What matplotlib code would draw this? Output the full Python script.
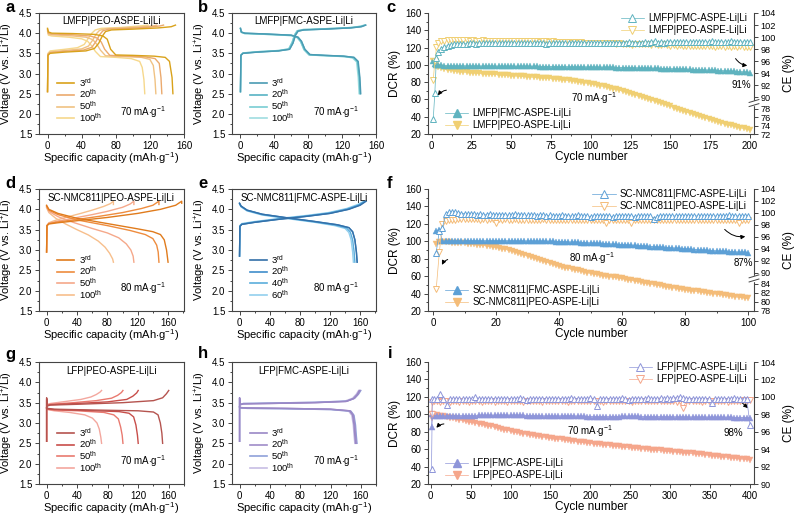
import matplotlib.pyplot as plt
import numpy as np
from matplotlib.lines import Line2D
from matplotlib.ticker import MultipleLocator

plt.rcParams['font.family'] = ['Liberation Sans', 'DejaVu Sans']
plt.rcParams['mathtext.fontset'] = 'custom'
plt.rcParams['mathtext.rm'] = 'Liberation Sans'
plt.rcParams['mathtext.it'] = 'Liberation Sans:italic'
plt.rcParams['mathtext.bf'] = 'Liberation Sans:bold'
plt.rcParams['axes.unicode_minus'] = True

# ---------------- voltage profiles (capacity mAh/g, voltage V) ----------------
labels_std = [r'3$^{\rm rd}$', r'20$^{\rm th}$', r'50$^{\rm th}$', r'100$^{\rm th}$']
labels_e = [r'3$^{\rm rd}$', r'20$^{\rm th}$', r'40$^{\rm th}$', r'60$^{\rm th}$']

# a: LMFP|PEO-ASPE-Li|Li
a_chg_cap = [[0, 0.5, 3, 20, 45, 55, 60, 64, 68, 75, 100, 130, 145, 150],
             [0, 0.5, 3, 20, 42, 52, 57, 61, 65, 72, 95, 120, 132, 136],
             [0, 0.5, 3, 20, 40, 48, 53, 57, 61, 68, 90, 112, 124, 128],
             [0, 0.5, 3, 20, 35, 43, 48, 52, 56, 63, 85, 103, 114, 118]]
a_chg_v = [[2.55, 3.45, 3.50, 3.53, 3.56, 3.62, 3.75, 3.92, 4.04, 4.08, 4.10, 4.13, 4.16, 4.20],
           [2.55, 3.47, 3.52, 3.55, 3.58, 3.65, 3.80, 3.96, 4.06, 4.10, 4.12, 4.15, 4.18, 4.20],
           [2.55, 3.48, 3.53, 3.57, 3.61, 3.68, 3.83, 3.98, 4.07, 4.11, 4.13, 4.16, 4.18, 4.20],
           [2.55, 3.50, 3.56, 3.60, 3.64, 3.72, 3.88, 4.00, 4.08, 4.12, 4.14, 4.17, 4.19, 4.20]]
a_dis_cap = [[0, 1, 5, 30, 55, 65, 70, 74, 80, 100, 125, 138, 143, 146, 147],
             [0, 1, 5, 30, 50, 58, 63, 67, 73, 95, 115, 126, 131, 133, 134],
             [0, 1, 5, 30, 45, 53, 58, 62, 68, 90, 110, 120, 124, 126, 127],
             [0, 1, 5, 25, 40, 47, 52, 56, 62, 80, 98, 108, 111, 113, 114]]
a_dis_v = [[4.12, 4.03, 4.00, 3.99, 3.97, 3.93, 3.85, 3.60, 3.46, 3.45, 3.43, 3.40, 3.30, 2.90, 2.50],
           [4.10, 4.00, 3.98, 3.96, 3.93, 3.88, 3.78, 3.60, 3.45, 3.43, 3.41, 3.37, 3.25, 2.90, 2.50],
           [4.08, 3.98, 3.96, 3.93, 3.90, 3.84, 3.72, 3.58, 3.44, 3.42, 3.40, 3.35, 3.20, 2.85, 2.50],
           [4.05, 3.95, 3.93, 3.90, 3.86, 3.80, 3.68, 3.55, 3.42, 3.40, 3.37, 3.30, 3.15, 2.85, 2.50]]

# b: LMFP|FMC-ASPE-Li|Li
b_chg_cap = [[0, 0.5, 3, 20, 45, 58, 62, 65, 68, 75, 100, 130, 143, 148],
             [0, 0.5, 3, 20, 45, 58, 62, 65, 68, 75, 100, 130, 142, 147.5],
             [0, 0.5, 3, 20, 45, 57, 61, 64, 67, 74, 100, 130, 142, 147],
             [0, 0.5, 3, 20, 45, 57, 61, 64, 67, 74, 100, 130, 141, 146]]
b_chg_v = [[2.55, 3.45, 3.50, 3.53, 3.56, 3.60, 3.75, 3.95, 4.05, 4.08, 4.10, 4.13, 4.16, 4.20],
           [2.55, 3.45, 3.50, 3.53, 3.56, 3.60, 3.76, 3.96, 4.05, 4.08, 4.10, 4.13, 4.16, 4.20],
           [2.55, 3.46, 3.51, 3.54, 3.57, 3.61, 3.77, 3.96, 4.06, 4.09, 4.11, 4.14, 4.17, 4.20],
           [2.55, 3.46, 3.51, 3.54, 3.57, 3.61, 3.78, 3.97, 4.06, 4.09, 4.11, 4.14, 4.17, 4.20]]
b_dis_cap = [[0, 1, 5, 30, 60, 68, 72, 76, 82, 100, 122, 134, 139, 141, 142],
             [0, 1, 5, 30, 60, 68, 72, 76, 82, 100, 122, 134, 138.5, 140.5, 141.5],
             [0, 1, 5, 30, 60, 67, 71, 75, 81, 100, 122, 133, 138, 140, 141],
             [0, 1, 5, 30, 60, 67, 71, 75, 81, 100, 121, 132, 137, 139, 140]]
b_dis_v = [[4.12, 4.03, 4.00, 3.98, 3.95, 3.90, 3.80, 3.60, 3.47, 3.45, 3.43, 3.40, 3.30, 2.90, 2.50],
           [4.12, 4.03, 4.00, 3.98, 3.95, 3.90, 3.80, 3.60, 3.47, 3.45, 3.43, 3.40, 3.30, 2.90, 2.50],
           [4.11, 4.02, 3.99, 3.97, 3.94, 3.89, 3.79, 3.59, 3.46, 3.44, 3.42, 3.39, 3.29, 2.90, 2.50],
           [4.11, 4.02, 3.99, 3.97, 3.94, 3.89, 3.79, 3.59, 3.46, 3.44, 3.42, 3.39, 3.29, 2.90, 2.50]]

# d: SC-NMC811|PEO-ASPE-Li|Li
d_chg_cap = [[0, 0.5, 3, 15, 40, 80, 120, 150, 170, 178, 178],
             [0, 0.5, 3, 15, 40, 70, 100, 125, 140, 148, 148],
             [0, 0.5, 3, 15, 35, 60, 80, 100, 110, 115, 115],
             [0, 0.5, 3, 10, 25, 45, 60, 75, 84, 88, 88]]
d_chg_v = [[2.95, 3.60, 3.64, 3.67, 3.72, 3.80, 3.90, 4.00, 4.10, 4.20, 4.15],
           [2.95, 3.60, 3.65, 3.69, 3.75, 3.83, 3.92, 4.02, 4.10, 4.20, 4.12],
           [2.95, 3.60, 3.66, 3.71, 3.78, 3.87, 3.95, 4.05, 4.13, 4.20, 4.12],
           [2.95, 3.60, 3.67, 3.72, 3.80, 3.90, 3.98, 4.07, 4.14, 4.20, 4.12]]
d_dis_cap = [[0, 3, 15, 40, 80, 120, 140, 150, 155, 158, 160],
             [0, 3, 15, 40, 80, 110, 130, 140, 145, 147, 148],
             [0, 3, 15, 35, 60, 80, 95, 105, 111, 114, 115],
             [0, 3, 12, 25, 40, 55, 68, 77, 83, 87, 88]]
d_dis_v = [[4.10, 4.00, 3.90, 3.78, 3.65, 3.52, 3.45, 3.38, 3.25, 3.00, 2.70],
           [4.08, 3.98, 3.87, 3.74, 3.60, 3.48, 3.38, 3.28, 3.12, 2.95, 2.70],
           [4.06, 3.95, 3.82, 3.68, 3.53, 3.42, 3.30, 3.15, 3.00, 2.85, 2.70],
           [4.04, 3.92, 3.78, 3.64, 3.50, 3.37, 3.22, 3.07, 2.92, 2.78, 2.70]]

# e: SC-NMC811|FMC-ASPE-Li|Li
e_chg_cap = [[0, 0.5, 3, 20, 50, 90, 120, 145, 160, 168],
             [0, 0.5, 3, 20, 50, 90, 120, 144, 159, 167],
             [0, 0.5, 3, 20, 50, 90, 119, 143, 158, 166],
             [0, 0.5, 3, 20, 50, 89, 118, 142, 157, 165]]
e_chg_v = [[2.85, 3.58, 3.63, 3.68, 3.75, 3.83, 3.90, 4.00, 4.10, 4.20],
           [2.85, 3.58, 3.63, 3.68, 3.75, 3.83, 3.90, 4.00, 4.10, 4.20],
           [2.85, 3.59, 3.64, 3.69, 3.76, 3.84, 3.91, 4.01, 4.11, 4.20],
           [2.85, 3.60, 3.65, 3.70, 3.77, 3.85, 3.92, 4.02, 4.12, 4.20]]
e_dis_cap = [[0, 2, 10, 30, 60, 100, 130, 145, 150, 153, 155, 156],
             [0, 2, 10, 30, 60, 100, 130, 145, 150, 153, 155, 156],
             [0, 2, 10, 30, 60, 100, 128, 142, 147, 150, 152, 153],
             [0, 2, 10, 30, 60, 100, 126, 140, 145, 148, 150, 151]]
e_dis_v = [[4.15, 4.08, 3.98, 3.88, 3.80, 3.70, 3.62, 3.55, 3.45, 3.25, 2.95, 2.70],
           [4.15, 4.08, 3.98, 3.88, 3.80, 3.70, 3.62, 3.55, 3.45, 3.25, 2.95, 2.70],
           [4.14, 4.07, 3.97, 3.87, 3.79, 3.69, 3.61, 3.54, 3.44, 3.25, 2.95, 2.70],
           [4.13, 4.06, 3.96, 3.86, 3.78, 3.68, 3.60, 3.53, 3.43, 3.25, 2.95, 2.70]]

# g: LFP|PEO-ASPE-Li|Li
g_chg_cap = [[0, 0, 1, 5, 40, 100, 140, 152, 157, 160],
             [0, 0, 1, 5, 40, 80, 105, 113, 118, 120],
             [0, 0, 1, 5, 35, 65, 85, 93, 98, 100],
             [0, 0, 1, 5, 25, 45, 58, 65, 70, 72]]
g_chg_v = [[2.55, 3.62, 3.42, 3.44, 3.46, 3.50, 3.55, 3.62, 3.72, 3.80],
           [2.55, 3.60, 3.43, 3.45, 3.48, 3.52, 3.58, 3.66, 3.74, 3.80],
           [2.55, 3.58, 3.44, 3.46, 3.50, 3.55, 3.61, 3.68, 3.75, 3.80],
           [2.55, 3.55, 3.46, 3.48, 3.53, 3.58, 3.64, 3.70, 3.76, 3.80]]
g_dis_cap = [[0, 1, 10, 60, 120, 140, 146, 149, 151, 152],
             [0, 1, 10, 50, 95, 108, 114, 117, 119, 120],
             [0, 1, 10, 40, 75, 88, 94, 97, 99, 100],
             [0, 1, 10, 30, 50, 60, 66, 69, 71, 72]]
g_dis_v = [[3.38, 3.36, 3.34, 3.32, 3.30, 3.27, 3.20, 3.00, 2.75, 2.50],
           [3.37, 3.35, 3.33, 3.31, 3.28, 3.24, 3.15, 2.95, 2.70, 2.50],
           [3.36, 3.34, 3.32, 3.30, 3.26, 3.20, 3.10, 2.90, 2.70, 2.50],
           [3.36, 3.33, 3.30, 3.26, 3.20, 3.12, 3.00, 2.85, 2.65, 2.50]]

# h: LFP|FMC-ASPE-Li|Li
h_chg_cap = [[0, 0, 1, 5, 40, 100, 140, 150, 155, 158],
             [0, 0, 1, 5, 40, 100, 141, 151, 156, 159],
             [0, 0, 1, 5, 40, 100, 142, 152, 157, 160],
             [0, 0, 1, 5, 40, 100, 139, 149, 154, 157]]
h_chg_v = [[2.55, 3.62, 3.45, 3.47, 3.48, 3.50, 3.53, 3.60, 3.70, 3.80],
           [2.55, 3.62, 3.45, 3.47, 3.48, 3.50, 3.53, 3.60, 3.70, 3.80],
           [2.55, 3.60, 3.46, 3.48, 3.49, 3.51, 3.54, 3.61, 3.71, 3.80],
           [2.55, 3.60, 3.46, 3.48, 3.49, 3.51, 3.54, 3.61, 3.71, 3.80]]
h_dis_cap = [[0, 1, 10, 60, 120, 145, 149, 151, 152, 153],
             [0, 1, 10, 60, 120, 146, 150, 152, 153, 154],
             [0, 1, 10, 60, 120, 147, 151, 153, 154, 155],
             [0, 1, 10, 60, 120, 144, 148, 150, 151, 152]]
h_dis_v = [[3.40, 3.38, 3.37, 3.36, 3.34, 3.30, 3.20, 2.95, 2.70, 2.50],
           [3.40, 3.38, 3.37, 3.36, 3.34, 3.30, 3.20, 2.95, 2.70, 2.50],
           [3.39, 3.37, 3.36, 3.35, 3.33, 3.29, 3.19, 2.95, 2.70, 2.50],
           [3.39, 3.37, 3.36, 3.35, 3.33, 3.29, 3.19, 2.95, 2.70, 2.50]]

# ---------------- cycling data ----------------
# c: LMFP, cycles 1,2,3 then every 2nd cycle
c_cycles = [1, 2, 3] + list(range(4, 201, 2))
c_fmc_dcr = [104, 101, 100,
             99.5, 99.3, 99.1, 99.0, 98.9, 98.8, 98.8, 98.7, 98.7,
             98.7, 98.6, 98.6, 98.6, 98.5, 98.5, 98.5, 98.5, 98.4, 98.4,
             98.4, 98.4, 98.3, 98.3, 98.3, 98.3, 98.2, 98.2, 98.2, 98.2,
             98.1, 98.1, 98.1, 98.0, 98.0, 98.0, 97.9, 97.9, 97.9, 97.8,
             97.8, 97.8, 97.7, 97.7, 97.6, 97.6, 97.5, 97.5, 97.4, 97.4,
             97.3, 97.3, 97.2, 97.2, 97.1, 97.0, 97.0, 96.9, 96.8, 96.8,
             96.7, 96.6, 96.5, 96.5, 96.4, 96.3, 96.2, 96.1, 96.0, 95.9,
             95.8, 95.7, 95.6, 95.5, 95.4, 95.3, 95.2, 95.1, 95.0, 94.8,
             94.7, 94.6, 94.4, 94.3, 94.1, 94.0, 93.8, 93.7, 93.5, 93.4,
             93.2, 93.0, 92.8, 92.6, 92.4, 92.2, 92.0, 91.7, 91.4, 91.1]
c_peo_dcr = [104, 100, 98.5,
             97.5, 96.3, 95.3, 94.5, 93.8, 93.2, 92.7, 92.2, 91.8,
             91.4, 91.1, 90.8, 90.5, 90.2, 89.9, 89.6, 89.4, 89.1, 88.9,
             88.6, 88.4, 88.1, 87.9, 87.6, 87.4, 87.1, 86.9, 86.6, 86.4,
             86.1, 85.8, 85.6, 85.3, 85.0, 84.7, 84.4, 84.0, 83.7, 83.3,
             82.9, 82.5, 82.0, 81.6, 81.1, 80.5, 80.0, 79.4, 78.8, 78.1,
             77.4, 76.7, 75.9, 75.1, 74.3, 73.4, 72.5, 71.6, 70.6, 69.6,
             68.6, 67.5, 66.4, 65.3, 64.2, 63.0, 61.8, 60.6, 59.4, 58.2,
             56.9, 55.7, 54.4, 53.2, 51.9, 50.6, 49.3, 48.1, 46.8, 45.5,
             44.3, 43.0, 41.8, 40.6, 39.4, 38.2, 37.1, 36.0, 34.9, 33.8,
             32.8, 31.8, 30.8, 29.9, 29.0, 28.1, 27.3, 26.5, 25.7, 25.0]
c_fmc_ce = [75.5, 90.8, 96.6,
            97.6, 98.1, 98.4, 98.6, 98.7, 98.8, 98.8, 98.9, 98.9,
            98.9, 99.0, 99.0, 98.9, 99.0, 99.0, 99.0, 99.1, 99.0, 99.0,
            99.0, 99.0, 99.1, 99.0, 99.0, 99.0, 99.0, 99.1, 99.0, 99.0,
            99.0, 99.0, 99.1, 99.0, 99.0, 98.8, 99.0, 99.0, 99.0, 99.0,
            99.1, 99.0, 99.0, 99.0, 99.1, 99.0, 99.1, 99.0, 99.1, 99.1,
            99.1, 99.1, 99.0, 99.1, 99.1, 99.1, 99.1, 99.1, 99.1, 99.1,
            99.1, 99.2, 99.1, 99.1, 99.1, 99.1, 99.2, 99.1, 99.2, 99.4,
            99.1, 99.2, 99.1, 99.2, 99.2, 99.2, 99.2, 99.2, 99.2, 99.2,
            99.2, 99.2, 99.2, 99.2, 99.2, 99.2, 99.2, 99.3, 99.2, 99.2,
            99.2, 99.2, 99.2, 99.4, 99.2, 99.2, 99.2, 99.2, 99.2, 99.2]
c_peo_ce = [92.9, 96.0, 98.3,
            99.0, 99.3, 99.4, 99.5, 99.5, 99.5, 99.5, 99.5, 99.5,
            99.5, 99.4, 99.5, 99.4, 99.4, 99.5, 99.4, 99.4, 99.4, 99.4,
            99.4, 99.4, 99.3, 99.4, 99.4, 99.3, 99.4, 99.3, 99.3, 99.3,
            99.3, 99.3, 99.3, 99.2, 99.3, 99.3, 99.2, 99.3, 99.2, 99.2,
            99.2, 99.2, 99.2, 99.1, 99.2, 99.1, 99.2, 99.1, 99.1, 99.1,
            99.1, 99.0, 99.1, 99.0, 99.0, 99.0, 99.0, 98.9, 99.0, 98.9,
            98.9, 98.9, 98.7, 98.9, 98.8, 98.8, 98.8, 98.8, 98.7, 98.8,
            98.7, 98.7, 98.8, 98.7, 98.6, 98.7, 98.6, 98.7, 98.6, 98.6,
            98.5, 98.6, 98.6, 98.5, 98.6, 98.5, 98.5, 98.6, 98.4, 98.5,
            98.5, 98.4, 98.5, 98.4, 98.5, 98.3, 98.5, 98.4, 98.3, 98.3]

# f: SC-NMC811, every cycle 1..100
f_cycles = list(range(1, 101))
f_fmc_dcr = [112, 113, 100.5, 100.0, 100.2, 100.3, 100.3, 100.4, 100.4, 100.4,
             100.5, 100.5, 100.5, 100.5, 100.5, 100.5, 100.5, 100.5, 100.6, 100.5,
             100.5, 100.5, 100.5, 100.4, 100.4, 100.4, 100.3, 100.3, 100.3, 100.2,
             100.2, 100.1, 100.1, 100.0, 100.0, 99.9, 99.8, 99.8, 99.7, 99.6,
             99.4, 99.3, 99.1, 99.0, 98.8, 98.7, 98.5, 98.3, 98.2, 98.0,
             97.8, 97.7, 97.5, 97.3, 97.1, 96.9, 96.7, 96.5, 96.3, 96.1,
             95.9, 95.7, 95.4, 95.2, 95.0, 94.8, 94.5, 94.3, 94.0, 93.8,
             93.5, 93.3, 93.0, 92.8, 92.5, 92.3, 92.0, 91.8, 91.5, 91.3,
             91.0, 90.8, 90.5, 90.3, 90.0, 89.8, 89.6, 89.3, 89.1, 88.9,
             88.7, 88.5, 88.3, 88.1, 87.9, 87.7, 87.5, 87.3, 87.2, 87.0]
f_peo_dcr = [97, 99, 99.5, 99.0, 98.8, 98.5, 98.3, 98.0, 97.8, 97.5,
             97.2, 96.9, 96.6, 96.2, 95.8, 95.4, 94.9, 94.4, 93.8, 93.1,
             92.5, 91.7, 90.8, 89.8, 88.8, 87.8, 86.7, 85.6, 84.5, 83.3,
             82.1, 80.9, 79.7, 78.5, 77.3, 76.1, 74.9, 73.7, 72.5, 71.3,
             70.5, 69.7, 68.9, 68.1, 67.3, 66.5, 65.7, 64.9, 64.1, 63.4,
             62.7, 62.0, 61.3, 60.7, 60.1, 59.5, 59.0, 58.5, 58.0, 57.5,
             56.8, 56.1, 55.4, 54.7, 54.0, 53.3, 52.6, 51.9, 51.2, 50.5,
             49.9, 49.3, 48.7, 48.1, 47.5, 46.9, 46.3, 45.7, 45.1, 44.5,
             44.0, 43.5, 43.0, 42.5, 42.0, 41.5, 41.0, 40.5, 40.0, 39.5,
             39.0, 38.5, 38.0, 37.5, 37.0, 36.5, 36.0, 35.5, 35.0, 34.5]
f_fmc_ce = [93.4, 97.0, 97.5, 99.9, 100.1, 100.2, 100.1, 100.0, 99.9, 99.9,
            99.8, 99.8, 99.8, 99.7, 99.8, 99.7, 99.7, 99.9, 99.7, 99.7,
            99.7, 99.6, 99.7, 99.6, 99.6, 99.8, 99.6, 99.6, 99.6, 99.6,
            99.6, 99.6, 99.5, 99.6, 99.6, 99.5, 99.6, 99.5, 99.5, 99.5,
            99.6, 99.5, 99.5, 99.5, 99.5, 99.6, 99.5, 99.5, 99.5, 99.4,
            99.5, 99.5, 99.5, 99.5, 99.5, 99.5, 99.4, 99.5, 99.5, 99.5,
            99.5, 99.5, 99.5, 99.4, 99.5, 99.5, 99.5, 99.5, 99.5, 99.0,
            99.4, 99.5, 99.5, 99.5, 99.5, 99.5, 99.5, 99.5, 99.5, 99.5,
            99.5, 99.5, 99.5, 99.5, 99.5, 99.5, 99.5, 99.5, 99.5, 99.5,
            99.5, 99.5, 99.5, 99.6, 99.5, 99.5, 99.5, 99.5, 99.5, 99.5]
f_peo_ce = [82.8, 93.5, 98.2, 98.6, 98.8, 98.9, 98.9, 99.0, 99.0, 99.0,
            99.0, 99.0, 99.0, 99.0, 98.9, 99.0, 98.9, 99.0, 99.0, 98.4,
            99.0, 98.9, 99.0, 98.9, 98.9, 99.0, 98.9, 98.9, 98.9, 98.9,
            98.9, 98.9, 98.9, 98.9, 99.0, 98.9, 98.9, 98.9, 98.9, 98.9,
            98.9, 98.9, 98.9, 98.9, 98.9, 98.9, 98.9, 98.9, 98.9, 98.9,
            98.9, 98.9, 98.9, 98.9, 98.3, 98.9, 98.9, 98.9, 98.9, 98.9,
            98.9, 98.9, 98.4, 98.9, 98.9, 98.9, 98.9, 98.9, 98.9, 98.9,
            98.9, 98.9, 98.9, 98.9, 98.9, 98.9, 98.9, 98.9, 98.9, 98.9,
            98.9, 98.9, 98.9, 98.9, 98.9, 98.9, 98.9, 98.9, 98.9, 98.9,
            98.9, 98.9, 98.9, 98.9, 98.9, 98.9, 98.3, 98.9, 98.9, 98.9]

# i: LFP, cycles 1,2 then every 4th cycle
i_cycles = [1, 2] + list(range(4, 401, 4))
i_fmc_dcr = [85, 100,
             98.5, 98.2, 98.0, 98.0, 98.1, 98.2, 98.3, 98.3, 98.4, 98.4,
             98.5, 98.5, 98.6, 98.6, 98.7, 98.7, 98.7, 98.8, 98.8, 98.8,
             98.8, 98.9, 98.9, 98.9, 98.9, 98.8, 98.8, 98.7, 98.7, 98.6,
             98.5, 98.4, 98.3, 98.2, 98.1, 98.0, 98.0, 97.9, 97.9, 98.0,
             98.1, 98.2, 98.3, 98.2, 98.0, 97.8, 97.6, 97.5, 97.4, 97.4,
             97.4, 97.3, 97.3, 97.3, 97.2, 97.2, 97.2, 97.3, 97.4, 97.5,
             97.6, 97.7, 97.7, 97.6, 97.5, 97.4, 97.3, 97.3, 97.2, 97.2,
             97.2, 97.2, 97.1, 97.1, 97.1, 97.0, 97.0, 97.0, 96.9, 96.9,
             96.8, 96.8, 96.8, 96.7, 96.7, 96.7, 96.6, 96.6, 96.6, 96.5,
             96.5, 96.5, 96.4, 96.4, 96.3, 96.3, 96.2, 96.1, 96.0, 95.8]
i_peo_dcr = [96, 100,
             99.6, 99.0, 98.3, 97.6, 96.9, 96.1, 95.3, 94.5, 93.7, 93.0,
             92.2, 91.5, 90.7, 89.9, 89.1, 88.3, 87.5, 86.7, 86.0, 85.3,
             84.3, 83.4, 82.5, 81.6, 80.8, 80.0, 79.3, 78.6, 77.9, 77.2,
             76.6, 76.0, 75.4, 74.8, 74.2, 73.7, 73.2, 72.7, 72.2, 71.7,
             71.2, 70.7, 70.2, 69.7, 69.2, 68.7, 68.2, 67.7, 67.2, 66.7,
             66.3, 65.9, 65.5, 65.1, 64.7, 64.3, 63.9, 63.5, 63.1, 62.7,
             62.3, 62.0, 61.6, 61.3, 60.9, 60.6, 60.2, 59.9, 59.5, 59.2,
             58.9, 58.5, 58.2, 57.9, 57.5, 57.2, 56.8, 56.5, 56.1, 55.8,
             55.4, 55.1, 54.7, 54.3, 53.9, 53.5, 53.1, 52.7, 52.3, 51.9,
             51.5, 51.1, 50.7, 50.3, 49.9, 49.5, 49.1, 48.7, 48.3, 47.9]
i_fmc_ce = [91.7, 99.7,
            99.7, 99.7, 100.3, 99.8, 99.1, 99.7, 99.7, 99.7, 99.8, 99.7,
            99.7, 99.7, 99.7, 100.0, 99.8, 99.8, 99.8, 99.8, 99.8, 99.8,
            99.8, 99.8, 99.8, 99.8, 99.8, 99.8, 99.8, 99.9, 99.8, 99.6,
            99.7, 99.8, 99.8, 99.8, 99.8, 99.8, 99.8, 99.8, 99.8, 99.8,
            99.8, 99.8, 99.8, 99.9, 99.8, 99.8, 99.8, 99.8, 99.8, 99.9,
            99.8, 99.0, 99.8, 99.8, 99.8, 99.8, 99.8, 99.8, 99.8, 99.9,
            99.8, 99.6, 99.8, 99.8, 99.8, 99.8, 99.8, 99.9, 99.8, 99.8,
            99.8, 99.9, 99.8, 99.9, 99.8, 99.9, 99.9, 100.0, 99.9, 99.8,
            99.8, 99.8, 99.8, 99.8, 99.8, 99.8, 99.8, 99.3, 99.8, 99.8,
            99.8, 99.8, 99.8, 99.8, 99.9, 99.8, 99.8, 99.8, 99.7, 96.8]
i_peo_ce = [98.0, 99.4,
            99.5, 99.5, 99.4, 99.5, 99.5, 99.4, 99.5, 99.5, 99.4, 99.5,
            99.5, 99.4, 99.5, 99.5, 99.5, 99.4, 99.5, 99.5, 99.5, 99.4,
            99.5, 99.5, 99.5, 99.4, 99.5, 99.5, 99.5, 99.5, 99.4, 99.5,
            99.5, 99.5, 99.5, 99.5, 99.4, 99.5, 99.5, 99.5, 99.5, 99.5,
            99.5, 99.5, 99.4, 99.5, 99.5, 99.5, 99.5, 99.5, 99.5, 99.5,
            99.5, 99.5, 99.5, 99.4, 99.5, 99.5, 99.5, 99.5, 99.5, 99.5,
            99.5, 99.5, 99.4, 99.5, 99.5, 99.5, 99.5, 99.5, 99.5, 99.5,
            99.5, 99.5, 99.5, 99.5, 99.5, 99.5, 99.4, 99.5, 98.7, 99.5,
            99.5, 99.5, 99.5, 99.5, 99.4, 99.5, 99.5, 99.5, 99.5, 99.5,
            99.5, 99.5, 99.4, 99.5, 99.5, 99.5, 99.5, 99.6, 99.5, 99.6]

# ---------------- style ----------------
SPINE = '#444444'
W, H = 797, 517
TICK_FS = 7
LAB_FS = 8


def px_axes(fig, left, top, right, bottom):
    return fig.add_axes([left / W, 1 - bottom / H, (right - left) / W, (bottom - top) / H])


def style_axes(ax, top=True, right=True):
    for side in ['left', 'bottom', 'top', 'right']:
        ax.spines[side].set_color(SPINE)
        ax.spines[side].set_linewidth(0.8)
    ax.spines['top'].set_visible(top)
    ax.spines['right'].set_visible(right)
    ax.tick_params(which='both', direction='out', color=SPINE, width=0.7,
                   labelsize=TICK_FS, pad=1.8, top=False, right=False)
    ax.tick_params(which='major', length=3)
    ax.tick_params(which='minor', length=1.6)


def voltage_panel(ax, chg_cap, chg_v, dis_cap, dis_v, colors, labels, title, rate, xmax):
    for k in range(3, -1, -1):
        ax.plot(chg_cap[k], chg_v[k], color=colors[k], lw=1.0)
        ax.plot(dis_cap[k], dis_v[k], color=colors[k], lw=1.0)
    handles = [Line2D([], [], color=c, lw=1.2) for c in colors]
    ax.legend(handles, labels, loc='lower left', bbox_to_anchor=(0.1, 0.055),
              borderaxespad=0, frameon=False, fontsize=6.8, handlelength=1.75,
              handletextpad=0.5, labelspacing=-0.1)
    ax.text(0.5, 0.93, title, transform=ax.transAxes, ha='center', va='center', fontsize=7)
    ax.text(0.72, 0.185, rate, transform=ax.transAxes, ha='center', va='center', fontsize=7)
    ax.set_xlim(-10, xmax)
    ax.set_ylim(1.5, 4.5)
    ax.set_xticks([0, 40, 80, 120, 160])
    ax.xaxis.set_minor_locator(MultipleLocator(20))
    ax.yaxis.set_major_locator(MultipleLocator(0.5))
    ax.yaxis.set_minor_locator(MultipleLocator(0.25))
    ax.set_xlabel(r'Specific capacity (mAh$\cdot$g$^{-1}$)', fontsize=LAB_FS, labelpad=0)
    ax.set_ylabel(r'Voltage (V vs. Li$^{+}$/Li)', fontsize=LAB_FS, labelpad=3)
    style_axes(ax)


def broken_scale(points, heights):
    def fwd(v):
        return np.interp(v, points, heights)

    def inv(h):
        return np.interp(h, heights, points)
    return fwd, inv


def cycling_panel(ax, cyc, fmc_dcr, peo_dcr, fmc_ce, peo_ce, col_fmc, col_peo,
                  names, xlim, xmajor, ce_lim, ce_ticks, ce_break=None):
    ax2 = ax.twinx()
    ms = 4.8
    ax.plot(cyc, peo_dcr, color=col_peo, lw=0.5, marker='v', ms=ms, mfc=col_peo, mec=col_peo, mew=0.3)
    ax.plot(cyc, fmc_dcr, color=col_fmc, lw=0.5, marker='^', ms=ms, mfc=col_fmc, mec=col_fmc, mew=0.3)
    if ce_break is not None:
        fwd, inv = broken_scale(*ce_break)
        ax2.set_yscale('function', functions=(fwd, inv))
    ax2.plot(cyc, peo_ce, color=col_peo, lw=0.5, marker='v', ms=ms, mfc='white', mec=col_peo, mew=0.7)
    ax2.plot(cyc, fmc_ce, color=col_fmc, lw=0.5, marker='^', ms=ms, mfc='white', mec=col_fmc, mew=0.7)

    ax.set_xlim(*xlim)
    ax.set_ylim(20, 160)
    ax.yaxis.set_major_locator(MultipleLocator(20))
    ax.yaxis.set_minor_locator(MultipleLocator(10))
    ax.xaxis.set_major_locator(MultipleLocator(xmajor))
    ax.xaxis.set_minor_locator(MultipleLocator(xmajor / 2))
    ax2.set_ylim(*ce_lim)
    ax2.set_yticks(ce_ticks)
    ax2.set_yticklabels([str(t) for t in ce_ticks])
    ax2.yaxis.set_minor_locator(plt.NullLocator())
    style_axes(ax, top=False, right=False)
    for side in ['left', 'bottom', 'top']:
        ax2.spines[side].set_visible(False)
    ax2.spines['right'].set_color(SPINE)
    ax2.spines['right'].set_linewidth(0.8)
    ax2.tick_params(which='both', direction='out', color=SPINE, width=0.7,
                    labelsize=6.6, pad=1.8, length=3)
    ax.set_xlabel('Cycle number', fontsize=LAB_FS + 0.5, labelpad=0.5)
    ax.set_ylabel('DCR (%)', fontsize=LAB_FS + 0.5, labelpad=3)
    ax2.set_ylabel('CE (%)', fontsize=LAB_FS + 0.5, labelpad=5)

    open_h = [Line2D([], [], color=col_fmc, lw=0.5, marker='^', ms=5.5, mfc='white', mec=col_fmc, mew=0.7),
              Line2D([], [], color=col_peo, lw=0.5, marker='v', ms=5.5, mfc='white', mec=col_peo, mew=0.7)]
    fill_h = [Line2D([], [], color=col_fmc, lw=0.5, marker='^', ms=5.5, mfc=col_fmc, mec=col_fmc),
              Line2D([], [], color=col_peo, lw=0.5, marker='v', ms=5.5, mfc=col_peo, mec=col_peo)]
    ax2.legend(open_h, names, loc='upper right', bbox_to_anchor=(0.99, 1.03), borderaxespad=0,
               frameon=False, fontsize=7, handlelength=2.4, handletextpad=0.4, labelspacing=0.2)
    ax.legend(fill_h, names, loc='lower left', bbox_to_anchor=(0.04, 0.0), borderaxespad=0,
              frameon=False, fontsize=7, handlelength=2.4, handletextpad=0.4, labelspacing=0.2)

    if ce_break is not None:
        pts, hts = ce_break
        lo = hts[1] / hts[-1]
        hi = hts[2] / hts[-1]
        mid = (lo + hi) / 2
        ax2.fill_between([0.99, 1.01], mid - 0.02, mid + 0.02, transform=ax2.transAxes,
                         color='white', clip_on=False, zorder=5)
        for dy in (-0.017, 0.017):
            ax2.plot([0.985, 1.015], [mid + dy - 0.012, mid + dy + 0.012], transform=ax2.transAxes,
                     color=SPINE, lw=0.7, clip_on=False, zorder=6)
    return ax2


def arrow(ax, start, end, rad):
    ax.annotate('', xy=end, xytext=start,
                arrowprops=dict(arrowstyle='-|>', color='black', lw=0.7, mutation_scale=6,
                                connectionstyle=f'arc3,rad={rad}'))


fig = plt.figure(figsize=(W / 100, H / 100), dpi=100)

rows = [(13, 134), (189, 311), (362, 484)]
cols = [(39, 184), (232, 376), (428, 754)]

# row 1
ax_a = px_axes(fig, cols[0][0], rows[0][0], cols[0][1], rows[0][1])
voltage_panel(ax_a, a_chg_cap, a_chg_v, a_dis_cap, a_dis_v,
              ['#D9A21B', '#EBAA6E', '#F0C283', '#F6D88C'], labels_std,
              'LMFP|PEO-ASPE-Li|Li', r'70 mA$\cdot$g$^{-1}$', 160)
ax_b = px_axes(fig, cols[1][0], rows[0][0], cols[1][1], rows[0][1])
voltage_panel(ax_b, b_chg_cap, b_chg_v, b_dis_cap, b_dis_v,
              ['#4A9BB3', '#58B3C3', '#79CDD3', '#A0DDE0'], labels_std,
              'LMFP|FMC-ASPE-Li|Li', r'70 mA$\cdot$g$^{-1}$', 160)
ax_c = px_axes(fig, cols[2][0], rows[0][0], cols[2][1], rows[0][1])
cycling_panel(ax_c, c_cycles, c_fmc_dcr, c_peo_dcr, c_fmc_ce, c_peo_ce, '#5FB3BF', '#F0CF72',
              ['LMFP|FMC-ASPE-Li|Li', 'LMFP|PEO-ASPE-Li|Li'], (-2.3, 202.5), 25,
              (72, 104), [72, 74, 76, 78, 90, 92, 94, 96, 98, 100, 102, 104],
              ([72, 78, 90, 104], [0, 25.3, 36.6, 121]))
ax_c.text(102, 62, r'70 mA$\cdot$g$^{-1}$', ha='center', va='center', fontsize=7)
ax_c.text(201, 77, '91%', ha='right', va='center', fontsize=7)
arrow(ax_c, (11, 71), (3, 62), 0.3)
arrow(ax_c, (190, 110), (200, 99), 0.3)

# row 2
ax_d = px_axes(fig, cols[0][0], rows[1][0], cols[0][1], rows[1][1])
voltage_panel(ax_d, d_chg_cap, d_chg_v, d_dis_cap, d_dis_v,
              ['#E07B1C', '#EE8C3E', '#F5A88A', '#F7BF8C'], labels_std,
              'SC-NMC811|PEO-ASPE-Li|Li', r'80 mA$\cdot$g$^{-1}$', 181)
ax_e = px_axes(fig, cols[1][0], rows[1][0], cols[1][1], rows[1][1])
voltage_panel(ax_e, e_chg_cap, e_chg_v, e_dis_cap, e_dis_v,
              ['#3470A8', '#3F8DCB', '#5BAEDC', '#92CFEE'], labels_e,
              'SC-NMC811|FMC-ASPE-Li|Li', r'80 mA$\cdot$g$^{-1}$', 181)
ax_f = px_axes(fig, cols[2][0], rows[1][0], cols[2][1], rows[1][1])
cycling_panel(ax_f, f_cycles, f_fmc_dcr, f_peo_dcr, f_fmc_ce, f_peo_ce, '#5DA0D6', '#F4BC78',
              ['SC-NMC811|FMC-ASPE-Li|Li', 'SC-NMC811|PEO-ASPE-Li|Li'], (-1.6, 101.9), 20,
              (78, 104), [78, 80, 82, 84, 90, 92, 94, 96, 98, 100, 102, 104],
              ([78, 84, 90, 104], [0, 27, 38, 121.7]))
ax_f.text(50.5, 81, r'80 mA$\cdot$g$^{-1}$', ha='center', va='center', fontsize=7)
ax_f.text(101.5, 75, '87%', ha='right', va='center', fontsize=7)
arrow(ax_f, (5.5, 80), (2.5, 70), 0.3)
arrow(ax_f, (92, 116), (100, 106), 0.3)

# row 3
ax_g = px_axes(fig, cols[0][0], rows[2][0], cols[0][1], rows[2][1])
voltage_panel(ax_g, g_chg_cap, g_chg_v, g_dis_cap, g_dis_v,
              ['#B5544F', '#C84E4A', '#E97A70', '#F3A79E'], labels_std,
              'LFP|PEO-ASPE-Li|Li', r'70 mA$\cdot$g$^{-1}$', 180)
ax_h = px_axes(fig, cols[1][0], rows[2][0], cols[1][1], rows[2][1])
voltage_panel(ax_h, h_chg_cap, h_chg_v, h_dis_cap, h_dis_v,
              ['#9A88C6', '#A08CC8', '#8FA1D9', '#C7BEE4'], labels_std,
              'LFP|FMC-ASPE-Li|Li', r'70 mA$\cdot$g$^{-1}$', 180)
ax_i = px_axes(fig, cols[2][0], rows[2][0], cols[2][1], rows[2][1])
cycling_panel(ax_i, i_cycles, i_fmc_dcr, i_peo_dcr, i_fmc_ce, i_peo_ce, '#8E95D9', '#F5A68B',
              ['LFP|FMC-ASPE-Li|Li', 'LFP|PEO-ASPE-Li|Li'], (-3.4, 405), 50,
              (90, 104), [90, 92, 94, 96, 98, 100, 102, 104])
ax_i.text(200, 81, r'70 mA$\cdot$g$^{-1}$', ha='center', va='center', fontsize=7)
ax_i.text(391, 78.5, '98%', ha='right', va='center', fontsize=7)
arrow(ax_i, (20, 89), (5, 82), 0.3)
ax_i.annotate('', xy=(400, 105), xytext=(382, 120),
              arrowprops=dict(arrowstyle='-|>', color='black', lw=0.7, mutation_scale=6))

# panel letters
for letter, x, y in [('a', 5, 8), ('b', 198, 8), ('c', 386, 7),
                     ('d', 5, 183), ('e', 198, 183), ('f', 387, 183),
                     ('g', 5, 354), ('h', 198, 354), ('i', 388, 354)]:
    fig.text(x / W, 1 - y / H, letter, fontsize=12, fontweight='bold', ha='left', va='center')

fig.savefig('out.png', dpi=100)
